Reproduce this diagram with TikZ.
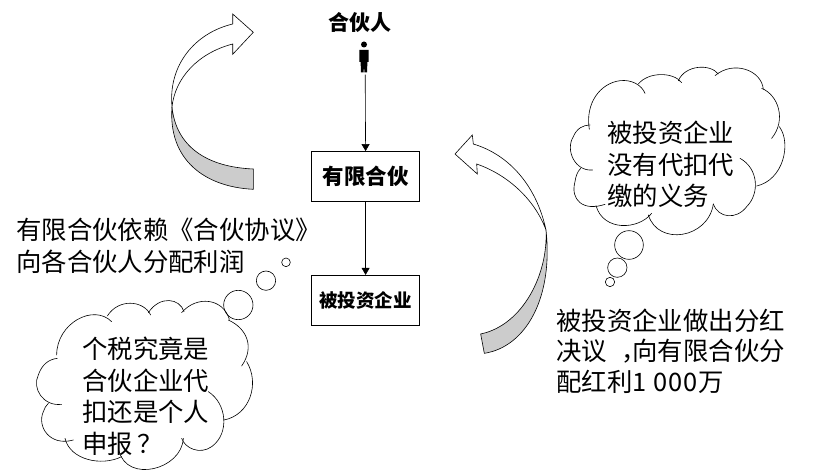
\documentclass[tikz,border=0pt]{standalone}
\usepackage{fontspec}
\setmainfont{Noto Sans CJK SC}
\usetikzlibrary{arrows.meta}
\begin{document}
\begin{tikzpicture}[x=1pt,y=-1pt,
  outline/.style={draw=black,line width=0.6pt},
  cloudline/.style={draw=black,line width=0.6pt,line cap=round},
  txt/.style={font=\fontsize{25.4pt}{31.5pt}\selectfont,align=left,anchor=west,inner sep=0pt},
  boxed/.style={draw=black,line width=0.8pt,fill=white,minimum width=108.4pt,minimum height=50pt,inner sep=0pt},
  conn/.style={draw=black,line width=0.6pt,-{Triangle[length=7pt,width=8pt]}}]
\useasboundingbox (0,0) rectangle (815,473);
\fill[white] (0,0) rectangle (815,473);
% left curved arrow
\path[outline,fill=black!20] (172,107) .. controls (176,146) and (206,167) .. (253.3,169) -- (253.3,189.3) .. controls (205,187) and (168,160) .. (172,107) -- cycle;
\path[outline,fill=white] (172,107) .. controls (168,65) and (195,33) .. (232.7,24) -- (232.7,14) -- (253.3,32.3) -- (232.7,54.3) -- (232.7,44) .. controls (198,53) and (175,78) .. (172,107) -- cycle;
% right curved arrow
\begin{scope}[shift={(440,60)},scale=1/3]
\path[outline,fill=black!20] (318,510) .. controls (325,640) and (250,795) .. (122,822) -- (133,880) .. controls (260,860) and (340,710) .. (318,510) -- cycle;
\path[outline,fill=white] (318,510) .. controls (290,380) and (210,285) .. (100,252) -- (97,225) -- (45,282) -- (112,342) -- (110,312) .. controls (205,345) and (285,420) .. (318,510) -- cycle;
% thought bubbles of the right cloud
\path[outline] (567,555) circle[radius=43];
\path[outline] (532,623) circle[radius=29];
\path[outline] (510,666) circle[radius=14];
\end{scope}
% right cloud
\begin{scope}[shift={(570,60)},scale=1/3]
\path[cloudline] (68,330) .. controls (15,335) and (-15,270) .. (10,230) .. controls (20,205) and (40,195) .. (60,195);
\path[cloudline] (58,208) .. controls (45,130) and (90,70) .. (150,62) .. controls (185,58) and (215,75) .. (225,100);
\path[cloudline] (205,72) .. controls (235,35) and (310,35) .. (335,68);
\path[cloudline] (325,62) .. controls (345,15) and (420,10) .. (445,42);
\path[cloudline] (435,47) .. controls (490,0) and (575,30) .. (580,88);
\path[cloudline] (575,85) .. controls (625,105) and (650,180) .. (605,235);
\path[cloudline] (628,200) .. controls (665,250) and (640,360) .. (560,378);
\path[cloudline] (510,295) .. controls (565,325) and (570,400) .. (530,440) .. controls (500,480) and (445,475) .. (430,432);
\path[cloudline] (430,432) .. controls (415,535) and (265,560) .. (235,465);
\path[cloudline] (245,460) .. controls (205,510) and (100,515) .. (78,437);
\path[cloudline] (105,433) .. controls (40,455) and (0,420) .. (15,365) .. controls (17,350) and (22,335) .. (32,325);
\end{scope}
% left cloud
\begin{scope}[shift={(20,240)},scale=1/3]
\path[cloudline] (125,493) .. controls (70,500) and (35,445) .. (55,405) .. controls (65,375) and (85,358) .. (112,355);
\path[cloudline] (110,345) .. controls (110,250) and (220,190) .. (275,245);
\path[cloudline] (262,228) .. controls (295,175) and (370,180) .. (392,225);
\path[cloudline] (385,218) .. controls (420,165) and (480,175) .. (492,215);
\path[cloudline] (485,218) .. controls (530,165) and (610,175) .. (628,238);
\path[cloudline] (625,240) .. controls (680,265) and (705,320) .. (665,378);
\path[cloudline] (680,365) .. controls (720,430) and (690,525) .. (612,540);
\path[cloudline] (565,455) .. controls (620,490) and (630,580) .. (575,620) .. controls (540,645) and (495,625) .. (485,595);
\path[cloudline] (490,595) .. controls (485,690) and (320,730) .. (297,632);
\path[cloudline] (305,650) .. controls (245,680) and (150,660) .. (135,595);
\path[cloudline] (160,600) .. controls (90,620) and (50,560) .. (70,515) .. controls (73,505) and (78,497) .. (85,490);
\path[outline] (655,195) circle[radius=44];
\path[outline] (738,122) circle[radius=29];
\path[outline] (798,67) circle[radius=13];
\end{scope}
% nodes
\node[font=\fontsize{21pt}{22pt}\selectfont\bfseries,inner sep=0pt] (partner) at (360,22) {合伙人};
\node[inner sep=0pt,minimum width=9pt,minimum height=33pt] (person) at (365.2,58) {};
\fill[black] (364,44.5) circle[radius=3];
\fill[black] (359.4,50) -- (368.6,50) -- (368.6,62) -- (367.4,62) -- (367,72.5) -- (364.4,72.5) -- (364,64) -- (363.6,72.5) -- (361,72.5) -- (360.6,62) -- (359.4,62) -- cycle;
\node[boxed,font=\fontsize{21.5pt}{24pt}\selectfont\bfseries] (lp) at (365.6,176.5) {有限合伙};
\node[boxed,font=\fontsize{18.5pt}{24pt}\selectfont\bfseries] (target) at (365.6,300.3) {被投资企业};
\draw[conn] (person.south) -- (lp.north);
\draw[conn] (lp.south) -- (target.north);
\node[txt] (leftnote) at (16,245.7) {有限合伙依赖《合伙协议》\\向各合伙人分配利润};
\node[txt] (leftcloud) at (82,396.5) {个税究竟是\\合伙企业代\\扣还是个人\\申报\hspace{5pt}？};
\node[txt] (rightcloud) at (607,164.5) {被投资企业\\没有代扣代\\缴的义务};
\node[txt,font=\fontsize{25.4pt}{30.5pt}\selectfont] (rightnote) at (556,351) {被投资企业做出分红\\决议\makebox[25.4pt][l]{\hspace{15pt}，}向有限合伙分\\配红利1\hspace{1.5pt} 0\hspace{1pt}0\hspace{1pt}0\hspace{1pt}万};
\end{tikzpicture}
\end{document}
